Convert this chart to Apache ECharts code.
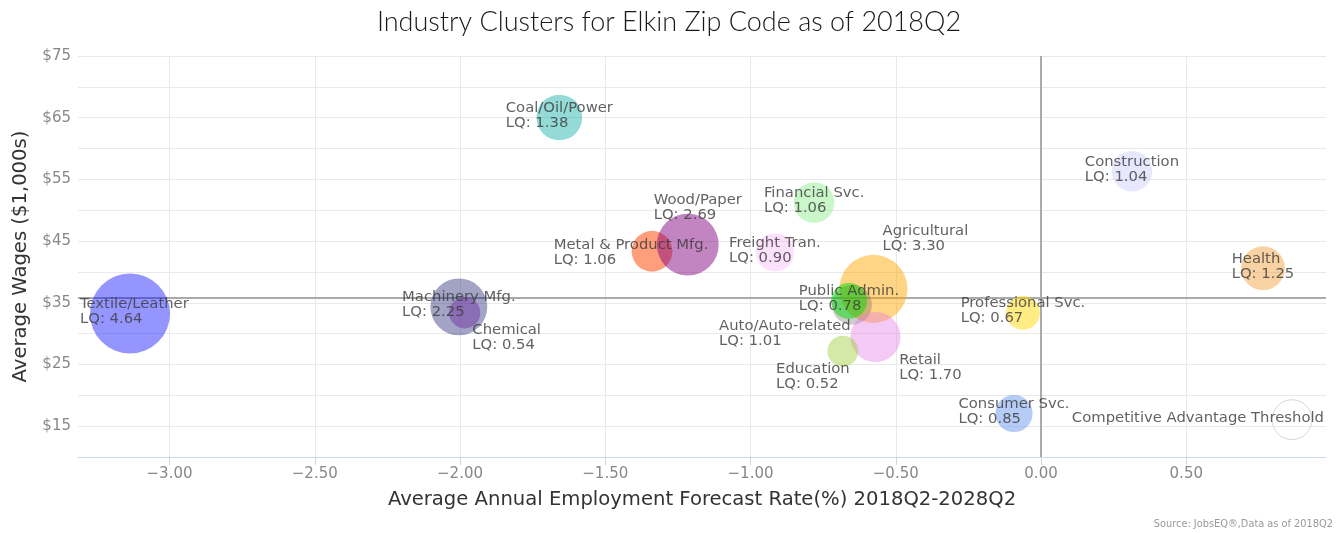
<!DOCTYPE html>
<html>
<head>
<meta charset="utf-8">
<script src="https://cdn.jsdelivr.net/npm/echarts@6/dist/echarts.min.js"></script>
<style>
  html, body { margin: 0; padding: 0; background: #fff; }
  #chart { width: 1338px; height: 533px; }
</style>
</head>
<body>
<div id="chart"></div>
<script>
// industry clusters, in drawing order (later ones on top)
const clusters = ['Textile/Leather', 'Machinery Mfg.', 'Chemical', 'Coal/Oil/Power', 'Metal & Product Mfg.',
  'Wood/Paper', 'Freight Tran.', 'Financial Svc.', 'Agricultural', 'Auto/Auto-related', 'Public Admin.',
  'Retail', 'Education', 'Professional Svc.', 'Consumer Svc.', 'Construction', 'Health'];
// forecast growth rate (%)
const growthRate = [-3.136, -2.004, -1.984, -1.658, -1.339, -1.216, -0.916, -0.781, -0.577, -0.651, -0.661,
  -0.570, -0.682, -0.062, -0.093, 0.313, 0.764];
// average wages ($1,000s)
const avgWage = [33.25, 34.34, 33.37, 65.03, 43.35, 44.42, 43.16, 51.25, 37.25, 34.66, 35.3,
  29.45, 27.17, 33.37, 17.05, 56.31, 40.6];
// location quotient
const lq = [4.64, 2.25, 0.54, 1.38, 1.06, 2.69, 0.90, 1.06, 3.30, 1.01, 0.78,
  1.70, 0.52, 0.67, 0.85, 1.04, 1.25];

// reference bubble (LQ = 1) and threshold lines
const thresholdPoint = [0.864, 16.05, 1.0];
const avgWageLine = 35.84;
const zeroGrowthLine = 0;

const xTicks = [-3, -2.5, -2, -1.5, -1, -0.5, 0, 0.5];
const yTickLabels = [15, 25, 35, 45, 55, 65, 75];

// styling
const colors = ['rgba(0,0,255,0.52)', 'rgba(25,25,112,0.5)', 'rgba(110,40,160,0.55)', 'rgba(32,178,170,0.6)',
  'rgba(255,69,0,0.65)', 'rgba(128,0,128,0.6)', 'rgba(238,130,238,0.3)', 'rgba(144,238,144,0.6)',
  'rgba(255,165,0,0.6)', 'rgba(80,80,80,0.35)', 'rgba(0,220,0,0.62)', 'rgba(230,120,230,0.5)',
  'rgba(154,205,50,0.55)', 'rgba(255,215,0,0.6)', 'rgba(100,149,237,0.6)', 'rgba(180,180,250,0.4)',
  'rgba(240,160,60,0.6)'];
// labels moved off their bubble (px)
const labelShift = {
  'Chemical': [42, 27], 'Education': [-30, 28], 'Retail': [55, 33], 'Agricultural': [52, -48],
  'Wood/Paper': [10, -35], 'Metal & Product Mfg.': [-21, 3], 'Auto/Auto-related': [-67, 31]
};
const GRID_L = 78, GRID_R = 12;
const W = 1338;
const GRID_COLOR = '#e9e9e9';

function bubbleSize(z) {
  return 2 * Math.sqrt(65 + 331 * z);
}

function placeLabel(params, shift) {
  const r = params.labelRect;
  const cx = r.x;
  let left = cx - r.width / 2 + shift[0];
  if (left < GRID_L + 2) left = GRID_L + 2;
  if (left + r.width > W - GRID_R - 2) left = W - GRID_R - 2 - r.width;
  return { dx: left - cx, dy: shift[1] - 2 };
}

const data = clusters.map((n, i) => ({
  name: n,
  value: [growthRate[i], avgWage[i], lq[i]],
  itemStyle: { color: colors[i] }
}));

const labelFont = { fontFamily: 'DejaVu Sans', fontSize: 14.8, color: '#3a3a3a', lineHeight: 15 };

const chart = echarts.init(document.getElementById('chart'));
chart.setOption({
  animation: false,
  title: {
    text: 'Industry Clusters for Elkin Zip Code as of 2018Q2',
    left: 'center',
    top: 4,
    textStyle: { fontFamily: 'Lato', fontWeight: 300, fontSize: 27, color: '#1a1a1a' }
  },
  graphic: [{
    type: 'text',
    right: 5,
    bottom: 4,
    style: { text: 'Source: JobsEQ®,Data as of 2018Q2', fontFamily: 'DejaVu Sans', fontSize: 9.8, fill: '#999' }
  }],
  grid: { left: GRID_L, right: GRID_R, top: 56, bottom: 76, outerBoundsMode: 'none' },
  xAxis: {
    type: 'value',
    min: -3.315,
    max: 0.981,
    name: 'Average Annual Employment Forecast Rate(%) 2018Q2-2028Q2',
    nameLocation: 'middle',
    nameGap: 33,
    nameTextStyle: { fontFamily: 'DejaVu Sans', fontSize: 19.6, color: '#333' },
    axisLine: { lineStyle: { color: '#ccd6eb' } },
    axisTick: { show: true, length: 8, lineStyle: { color: '#ccd6eb' }, customValues: xTicks },
    axisLabel: {
      customValues: xTicks,
      fontFamily: 'DejaVu Sans', fontSize: 15, color: '#888', margin: 10,
      formatter: v => (v < 0 ? '\u2212' : '') + Math.abs(v).toFixed(2)
    },
    splitLine: { show: false }
  },
  yAxis: {
    type: 'value',
    min: 10,
    max: 75,
    interval: 5,
    name: 'Average Wages ($1,000s)',
    nameLocation: 'middle',
    nameGap: 47,
    nameTextStyle: { fontFamily: 'DejaVu Sans', fontSize: 19.6, color: '#333' },
    axisLine: { show: false },
    axisTick: { show: false },
    axisLabel: {
      fontFamily: 'DejaVu Sans', fontSize: 15, color: '#888', margin: 7,
      formatter: v => yTickLabels.indexOf(v) >= 0 ? '$' + v : ''
    },
    splitLine: { lineStyle: { color: GRID_COLOR } }
  },
  series: [
    {
      // vertical grid lines at the labelled x ticks
      type: 'scatter',
      data: [],
      z: 0,
      silent: true,
      markLine: {
        z: 0,
        silent: true,
        symbol: 'none',
        label: { show: false },
        lineStyle: { color: GRID_COLOR, width: 1, type: 'solid' },
        data: xTicks.filter(v => v !== zeroGrowthLine).map(v => ({ xAxis: v }))
      }
    },
    {
      // average wage and zero growth threshold lines
      type: 'scatter',
      data: [],
      z: 1,
      silent: true,
      markLine: {
        z: 1,
        silent: true,
        symbol: 'none',
        label: { show: false },
        lineStyle: { color: '#aaa', width: 2, type: 'solid' },
        data: [{ yAxis: avgWageLine }, { xAxis: zeroGrowthLine }]
      }
    },
    {
      type: 'scatter',
      z: 2,
      data: data,
      symbolSize: v => bubbleSize(v[2]),
      label: {
        show: true,
        position: 'inside',
        align: 'left',
        verticalAlign: 'middle',
        formatter: p => p.name + '\nLQ: ' + p.value[2].toFixed(2),
        ...labelFont
      },
      labelLayout: p => placeLabel(p, labelShift[clusters[p.dataIndex]] || [0, 0]),
      emphasis: { disabled: true }
    },
    {
      type: 'scatter',
      z: 2,
      data: [{ name: 'Competitive Advantage Threshold', value: thresholdPoint }],
      symbolSize: v => bubbleSize(v[2]),
      itemStyle: { color: 'rgba(255,255,255,0)', borderColor: '#ccc', borderWidth: 1 },
      label: {
        show: true,
        position: 'inside',
        align: 'left',
        verticalAlign: 'middle',
        formatter: p => p.name,
        ...labelFont
      },
      labelLayout: p => placeLabel(p, [0, 0]),
      emphasis: { disabled: true }
    }
  ]
});
</script>
</body>
</html>
